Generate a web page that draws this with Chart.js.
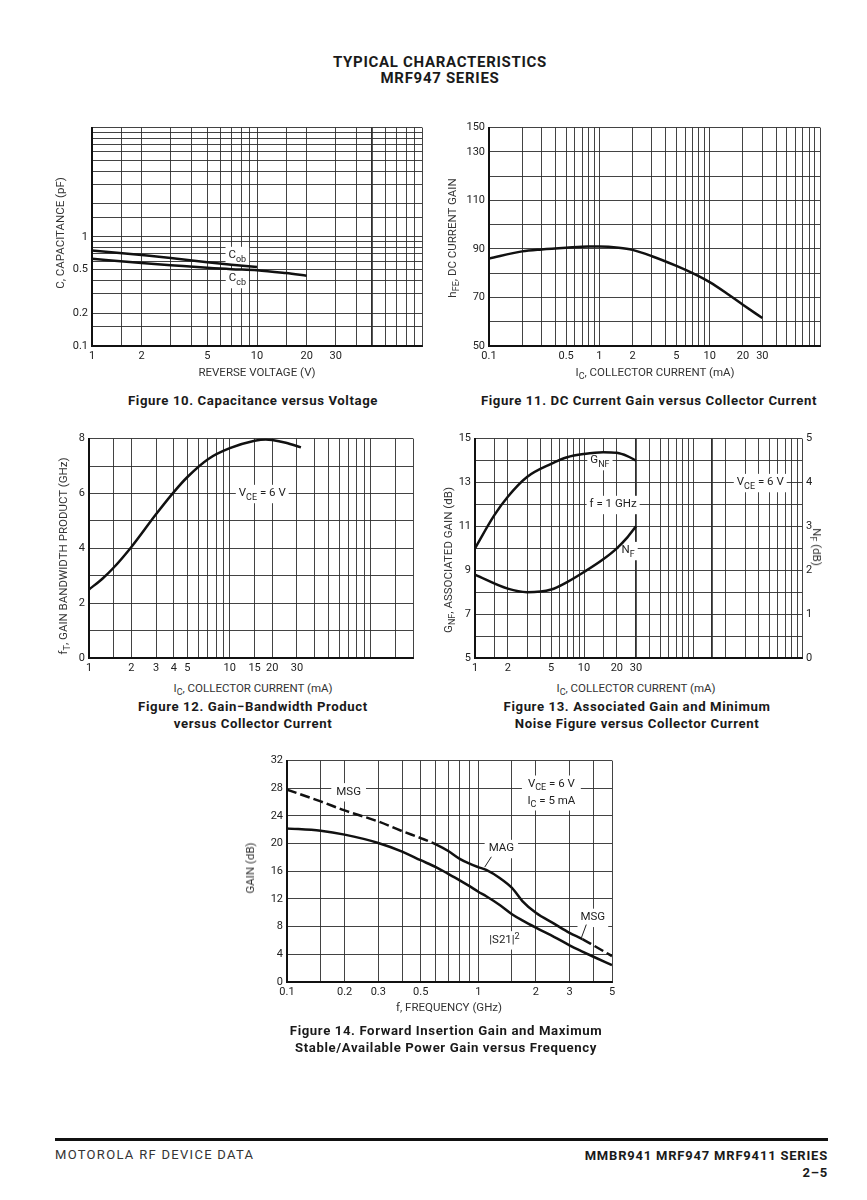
<!DOCTYPE html>
<html>
<head>
<meta charset="utf-8">
<script src="https://cdn.jsdelivr.net/npm/chart.js@4.4.1/dist/chart.umd.min.js"></script>
<style>
  body { margin: 0; background: #fff; width: 867px; height: 1200px; position: relative; overflow: hidden; font-family: Roboto, 'Liberation Sans', sans-serif; color: #1a1a1a; }
  canvas { position: absolute; }
  .t { position: absolute; white-space: nowrap; transform: translate(-50%, -50%); }
  .ax { font-family: Roboto, sans-serif; font-size: 11.5px; color: #333; }
  .rot { transform: translate(-50%, -50%) rotate(-90deg); }
  .rot90 { transform: translate(-50%, -50%) rotate(90deg); }
  .cap { font-weight: bold; font-size: 13.2px; letter-spacing: 0.6px; text-align: center; line-height: 17px; }
  sub { font-size: 78%; vertical-align: -0.35em; line-height: 0; }
  .head { font-weight: bold; font-size: 15px; letter-spacing: 0.7px; text-align: center; line-height: 16px; }
  .rule { position: absolute; left: 55px; width: 773px; top: 1138px; height: 3px; background: #111; }
  .foot { position: absolute; font-size: 13px; top: 1147px; }
</style>
</head>
<body>

<div class="t head" style="left:440px; top:70px;">TYPICAL CHARACTERISTICS<br>MRF947 SERIES</div>

<canvas id="fig10"></canvas>
<canvas id="fig11"></canvas>
<canvas id="fig12"></canvas>
<canvas id="fig13"></canvas>
<canvas id="fig14"></canvas>

<!-- axis titles -->
<div class="t ax rot" style="left:60px; top:233px;">C, CAPACITANCE (pF)</div>
<div class="t ax" style="left:257px; top:372px;">REVERSE VOLTAGE (V)</div>
<div class="t ax rot" style="left:452px; top:238px;">h<sub>FE</sub>, DC CURRENT GAIN</div>
<div class="t ax" style="left:655px; top:372px;">I<sub>C</sub>, COLLECTOR CURRENT (mA)</div>
<div class="t ax rot" style="left:63px; top:556px;">f<sub>T</sub>, GAIN BANDWIDTH PRODUCT (GHz)</div>
<div class="t ax" style="left:253px; top:688px;">I<sub>C</sub>, COLLECTOR CURRENT (mA)</div>
<div class="t ax rot" style="left:448px; top:560px;">G<sub>NF</sub>, ASSOCIATED GAIN (dB)</div>
<div class="t ax rot90" style="left:817px; top:547px;">N<sub>F</sub> (dB)</div>
<div class="t ax" style="left:636px; top:688px;">I<sub>C</sub>, COLLECTOR CURRENT (mA)</div>
<div class="t ax rot" style="left:250px; top:868px;">GAIN (dB)</div>
<div class="t ax" style="left:449px; top:1007px;">f, FREQUENCY (GHz)</div>

<!-- captions -->
<div class="t cap" style="left:253px; top:400px;">Figure 10. Capacitance versus Voltage</div>
<div class="t cap" style="left:649px; top:400px;">Figure 11. DC Current Gain versus Collector Current</div>
<div class="t cap" style="left:253px; top:715px;">Figure 12. Gain&minus;Bandwidth Product<br>versus Collector Current</div>
<div class="t cap" style="left:637px; top:715px;">Figure 13. Associated Gain and Minimum<br>Noise Figure versus Collector Current</div>
<div class="t cap" style="left:446px; top:1039px;">Figure 14. Forward Insertion Gain and Maximum<br>Stable/Available Power Gain versus Frequency</div>

<div class="rule"></div>
<div class="foot" style="left:55px; letter-spacing:1.3px; color:#333;">MOTOROLA RF DEVICE DATA</div>
<div class="foot" style="right:39px; font-weight:bold; letter-spacing:0.8px; text-align:right; line-height:17px;">MMBR941 MRF947 MRF9411 SERIES<br>2&ndash;5</div>

<script>
// ---- Figure 10: capacitance vs reverse voltage
const voltsCob = [1, 2, 3, 5, 7, 10];
const cob = [0.75, 0.68, 0.64, 0.585, 0.555, 0.53];
const voltsCcb = [1, 2, 3, 5, 7, 10, 15, 20];
const ccb = [0.63, 0.575, 0.55, 0.52, 0.505, 0.495, 0.465, 0.44];
const f10xGrid = [1, 1.5, 2, 3, 4, 5, 6, 7, 8, 9, 10, 15, 20, 30, 40, 50, 60, 70, 80, 90, 100];
const f10xLabels = [1, 2, 5, 10, 20, 30];
const f10yGrid = [0.1, 0.15, 0.2, 0.3, 0.4, 0.5, 0.6, 0.7, 0.8, 0.9, 1, 1.5, 2, 3, 4, 5, 6, 7, 8, 9, 10];
const f10yLabels = [0.1, 0.2, 0.5, 1];

// ---- Figure 11: hFE vs collector current
const ic11 = [0.1, 0.2, 0.3, 0.5, 0.8, 1, 1.5, 2, 3, 5, 7, 10, 15, 20, 30];
const hfe = [86, 89, 89.8, 90.5, 91, 91, 90.5, 89.6, 87, 83, 80, 76.3, 71, 67, 61.5];
const f11xGrid = [0.1, 0.2, 0.3, 0.4, 0.5, 0.6, 0.7, 0.8, 0.9, 1, 2, 3, 4, 5, 6, 7, 8, 9, 10, 20, 30, 40, 50, 60, 70, 80, 90, 100];
const f11xLabels = [0.1, 0.5, 1, 2, 5, 10, 20, 30];
const f11yGrid = [50, 60, 70, 80, 90, 100, 110, 120, 130, 140];
const f11yLabels = { 50: '50', 70: '70', 90: '90', 110: '110', 130: '130', 140: '150' };

// ---- Figure 12: fT vs collector current
const ic12 = [1, 1.25, 1.5, 2, 3, 4, 5, 7, 10, 15, 18, 20, 25, 32];
const ft = [2.5, 2.9, 3.3, 4.05, 5.25, 6.05, 6.6, 7.25, 7.65, 7.92, 7.97, 7.95, 7.85, 7.68];
const f12xGrid = [1, 1.5, 2, 3, 4, 5, 6, 7, 8, 9, 10, 15, 20, 30, 40, 50, 60, 70, 80, 90, 100, 150, 200];
const f12xLabels = [1, 2, 3, 4, 5, 10, 15, 20, 30];
const f12yGrid = [0, 1, 2, 3, 4, 5, 6, 7, 8];
const f12yLabels = [0, 2, 4, 6, 8];

// ---- Figure 13: associated gain and noise figure vs collector current
const ic13 = [1, 1.5, 2, 3, 5, 7, 10, 15, 20, 25, 30];
const gnf = [10, 11.5, 12.35, 13.25, 13.85, 14.15, 14.3, 14.38, 14.35, 14.2, 14.0];
const ic13nf = [1, 2, 3, 5, 7, 10, 15, 20, 25, 30];
const nf = [1.9, 1.58, 1.5, 1.56, 1.73, 1.96, 2.25, 2.5, 2.75, 3.0];
const f13xGrid = [1, 1.5, 2, 3, 4, 5, 6, 7, 8, 9, 10, 15, 20, 30, 40, 50, 60, 70, 80, 90, 100, 150, 200, 300, 400, 500, 600, 700, 800, 900, 1000];
const f13xLabels = [1, 2, 5, 10, 20, 30];
const f13yGrid = [5, 6, 7, 8, 9, 10, 11, 12, 13, 14, 15];
const f13yLabels = [5, 7, 9, 11, 13, 15];
const f13y2Labels = [0, 1, 2, 3, 4, 5];

// ---- Figure 14: gain vs frequency
const freq = [0.1, 0.15, 0.2, 0.3, 0.4, 0.5, 0.6, 0.7, 0.8, 0.9, 1, 1.1, 1.3, 1.5, 1.7, 2, 2.5, 3, 3.5, 4, 5];
const msgMag = [27.8, 26.1, 24.8, 23.2, 21.8, 20.8, 19.9, 18.9, 17.8, 17.1, 16.6, 16.2, 15, 13.6, 11.7, 10, 8.4, 7.1, 6.2, 5.3, 3.75];
const s21 = [22.2, 21.85, 21.3, 20.1, 18.85, 17.6, 16.6, 15.6, 14.7, 13.85, 13.05, 12.4, 11.1, 9.8, 8.9, 7.85, 6.5, 5.3, 4.4, 3.65, 2.45];
const f14xGrid = [0.1, 0.15, 0.2, 0.3, 0.4, 0.5, 0.6, 0.7, 0.8, 0.9, 1, 1.5, 2, 3, 4, 5];
const f14xLabels = [0.1, 0.2, 0.3, 0.5, 1, 2, 3, 5];
const f14yGrid = [0, 4, 8, 12, 16, 20, 24, 28, 32];

const FONT = "Roboto, sans-serif";
Chart.defaults.font.family = FONT;
Chart.defaults.font.size = 11;
Chart.defaults.color = '#222';

function pts(xs, ys) {
  return xs.map((x, i) => ({ x: x, y: ys[i] }));
}

function place(id, a, yW, rW) {
  const cv = document.getElementById(id);
  cv.width = yW + (a[2] - a[0]) + rW + 8;
  cv.height = 8 + (a[3] - a[1]) + 22;
  cv.style.left = (a[0] - yW) + 'px';
  cv.style.top = (a[1] - 8) + 'px';
  return cv;
}

function axis(type, min, max, grid, label, heavy, fit) {
  return {
    type: type, min: min, max: max,
    afterBuildTicks: s => { s.ticks = grid.map(v => ({ value: v })); },
    afterFit: fit,
    ticks: { autoSkip: false, maxRotation: 0, padding: 4, callback: v => label(v) },
    grid: { color: '#2e2e2e', drawTicks: false, lineWidth: c => (heavy.includes(c.tick.value) ? 1.8 : 0.9) },
    border: { color: '#111', width: 2 }
  };
}
const fitX = s => { s.height = 22; };
const fitY = s => { s.width = 45; };
const inList = list => v => (list.includes(v) ? String(v) : '');

// text with subscript / superscript parts, optional white box behind
function drawRich(ctx, parts, cx, cy, size, pad) {
  let w = 0;
  const widths = parts.map(p => {
    ctx.font = (p[1] ? size * 0.78 : size) + 'px ' + FONT;
    const m = ctx.measureText(p[0]).width;
    w += m;
    return m;
  });
  let x = cx - w / 2;
  if (pad) {
    ctx.fillStyle = '#fff';
    ctx.fillRect(x - pad, cy - size * 0.75, w + 2 * pad, size * 1.6);
  }
  ctx.fillStyle = '#222';
  ctx.textBaseline = 'middle';
  ctx.textAlign = 'left';
  parts.forEach((p, i) => {
    ctx.font = (p[1] ? size * 0.78 : size) + 'px ' + FONT;
    const dy = p[1] === 1 ? size * 0.35 : (p[1] === 2 ? -size * 0.3 : 0);
    ctx.fillText(p[0], x, cy + dy);
    x += widths[i];
  });
}

function notes(items, leaders) {
  return {
    id: 'notes',
    beforeDatasetsDraw(chart) {
      const ctx = chart.ctx;
      ctx.save();
      items.forEach(it => {
        const ys = chart.scales[it.axis || 'y'];
        drawRich(ctx, it.parts, chart.scales.x.getPixelForValue(it.x), ys.getPixelForValue(it.y), 11.5, it.pad === undefined ? 3 : it.pad);
      });
      ctx.restore();
    },
    afterDatasetsDraw(chart) {
      const ctx = chart.ctx, sx = chart.scales.x, sy = chart.scales.y;
      ctx.save();
      ctx.strokeStyle = '#222';
      ctx.lineWidth = 1;
      (leaders || []).forEach(l => {
        ctx.beginPath();
        ctx.moveTo(sx.getPixelForValue(l[0]), sy.getPixelForValue(l[1]));
        ctx.lineTo(sx.getPixelForValue(l[2]), sy.getPixelForValue(l[3]));
        ctx.stroke();
      });
      ctx.restore();
    }
  };
}

function config(scales, datasets, plugin) {
  return {
    type: 'line',
    data: { datasets: datasets },
    options: {
      responsive: false,
      animation: false,
      layout: { padding: { top: 8, right: 8, left: 0, bottom: 0 } },
      plugins: { legend: { display: false }, tooltip: { enabled: false } },
      elements: {
        point: { radius: 0 },
        line: { borderColor: '#111', borderWidth: 2.5, tension: 0.4, cubicInterpolationMode: 'monotone' }
      },
      scales: scales
    },
    plugins: plugin ? [plugin] : []
  };
}

// Figure 10
new Chart(place('fig10', [92, 125, 422, 346], 45, 0), config({
  x: axis('logarithmic', 1, 100, f10xGrid, inList(f10xLabels), [50], fitX),
  y: axis('logarithmic', 0.1, 10, f10yGrid, inList(f10yLabels), [], fitY)
}, [
  { data: pts(voltsCob, cob) },
  { data: pts(voltsCcb, ccb) }
], notes([
  { x: 7.6, y: 0.675, parts: [['C', 0], ['ob', 1]] },
  { x: 7.6, y: 0.415, parts: [['C', 0], ['cb', 1]] }
])));

// Figure 11
new Chart(place('fig11', [489, 125, 820, 346], 45, 0), config({
  x: axis('logarithmic', 0.1, 100, f11xGrid, inList(f11xLabels), [], fitX),
  y: axis('linear', 50, 140, f11yGrid, v => f11yLabels[v] || '', [], fitY)
}, [
  { data: pts(ic11, hfe) }
]));

// Figure 12
new Chart(place('fig12', [89, 436, 413, 658], 45, 0), config({
  x: axis('logarithmic', 1, 200, f12xGrid, inList(f12xLabels), [], fitX),
  y: axis('linear', 0, 8, f12yGrid, inList(f12yLabels), [], fitY)
}, [
  { data: pts(ic12, ft) }
], notes([
  { x: 17, y: 6, parts: [['V', 0], ['CE', 1], [' = 6 V', 0]] }
])));

// Figure 13
const y2 = {
  type: 'linear', position: 'right', min: 0, max: 5,
  afterBuildTicks: s => { s.ticks = f13y2Labels.map(v => ({ value: v })); },
  afterFit: s => { s.width = 25; },
  ticks: { padding: 4, callback: v => String(v) },
  grid: { display: false, drawTicks: false },
  border: { display: false }
};
new Chart(place('fig13', [475, 436, 802, 658], 45, 25), config({
  x: axis('logarithmic', 1, 1000, f13xGrid, inList(f13xLabels), [30, 150], fitX),
  y: axis('linear', 5, 15, f13yGrid, inList(f13yLabels), [], fitY),
  y2: y2
}, [
  { data: pts(ic13, gnf) },
  { data: pts(ic13nf, nf), yAxisID: 'y2' }
], notes([
  { x: 14, y: 14, parts: [['G', 0], ['NF', 1]] },
  { x: 18.5, y: 12, parts: [['f = 1 GHz', 0]] },
  { x: 25.4, y: 9.9, parts: [['N', 0], ['F', 1]] },
  { x: 414, y: 13, parts: [['V', 0], ['CE', 1], [' = 6 V', 0]] }
])));

// Figure 14
new Chart(place('fig14', [287, 758, 612, 982], 45, 0), config({
  x: axis('logarithmic', 0.1, 5, f14xGrid, inList(f14xLabels), [], fitX),
  y: axis('linear', 0, 32, f14yGrid, v => String(v), [], fitY)
}, [
  {
    data: pts(freq, msgMag),
    segment: { borderDash: c => ((c.p0.parsed.x < 0.6 || c.p0.parsed.x >= 3.5) ? [10, 4] : undefined) }
  },
  { data: pts(freq, s21) }
], notes([
  { x: 0.21, y: 27.5, parts: [['MSG', 0]], pad: 5 },
  { x: 2.41, y: 28.6, parts: [['V', 0], ['CE', 1], [' = 6 V', 0]], pad: 6 },
  { x: 2.41, y: 26.2, parts: [['I', 0], ['C', 1], [' = 5 mA', 0]], pad: 6 },
  { x: 1.32, y: 19.3, parts: [['MAG', 0]], pad: 4 },
  { x: 3.97, y: 9.35, parts: [['MSG', 0]], pad: 3 },
  { x: 1.37, y: 6.1, parts: [['|S21|', 0], ['2', 2]], pad: 3 }
], [
  [1.17, 18.1, 1.08, 16.6],
  [3.67, 8.3, 3.46, 6.4]
])));
</script>
</body>
</html>
